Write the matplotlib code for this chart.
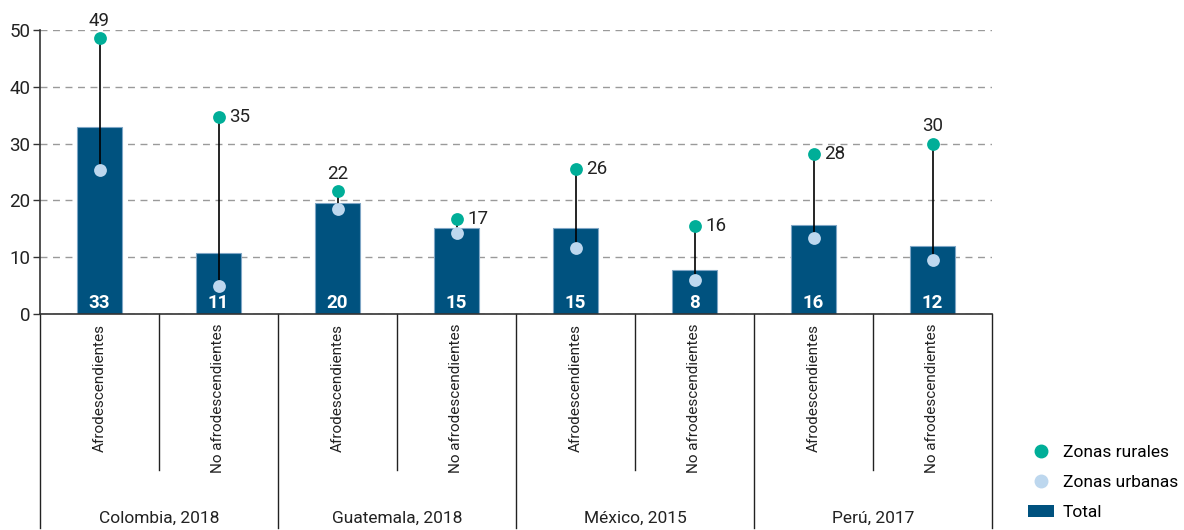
import numpy as np
import matplotlib.pyplot as plt
from matplotlib.lines import Line2D
from matplotlib.patches import Patch

plt.rcParams['font.family'] = ['Roboto', 'DejaVu Sans']

# Datos por país y grupo
paises = ['Colombia, 2018', 'Guatemala, 2018', 'México, 2015', 'Perú, 2017']
grupos = ['Afrodescendientes', 'No afrodescendientes']
total = [32.9, 10.7, 19.5, 15.1, 15.1, 7.7, 15.7, 12.0]
total_etiqueta = [33, 11, 20, 15, 15, 8, 16, 12]
rural = [48.6, 34.7, 21.6, 16.8, 25.6, 15.5, 28.2, 30.0]
rural_etiqueta = [49, 35, 22, 17, 26, 16, 28, 30]
urbano = [25.4, 5.0, 18.4, 14.2, 11.7, 5.9, 13.4, 9.5]
# posición de la etiqueta rural: encima del punto o a la derecha
pos_etiqueta = ['top', 'right', 'top', 'right', 'right', 'right', 'right', 'top']

c_total = '#00527f'
c_rural = '#00ae98'
c_urbano = '#bdd7ee'
c_texto = '#222222'

fig = plt.figure(figsize=(11.84, 5.30), dpi=100)
ax = fig.add_axes([40 / 1184, 1 - 314 / 530, 952 / 1184, 284 / 530])

x = np.arange(len(total))
ax.bar(x, total, width=0.37, color=c_total, edgecolor='#7fa6c6', linewidth=0.8, zorder=2)
ax.vlines(x, urbano, rural, color='black', linewidth=1.2, zorder=3)
ax.scatter(x, urbano, s=85, color=c_urbano, zorder=4, linewidths=0)
ax.scatter(x, rural, s=85, color=c_rural, zorder=4, linewidths=0)

for i in range(len(x)):
    ax.text(x[i], 0.3, str(total_etiqueta[i]), ha='center', va='bottom',
            color='white', fontsize=13.5, fontweight='bold', zorder=5)
    if pos_etiqueta[i] == 'top':
        ax.annotate(str(rural_etiqueta[i]), (x[i], rural[i]), xytext=(0, 6),
                    textcoords='offset points', ha='center', va='bottom', fontsize=13.5, color=c_texto)
    else:
        ax.annotate(str(rural_etiqueta[i]), (x[i], rural[i]), xytext=(8, 0),
                    textcoords='offset points', ha='left', va='center', fontsize=13.5, color=c_texto)

ax.set_xlim(-0.5, len(x) - 0.5)
ax.set_ylim(0, 50)
ax.set_yticks([0, 10, 20, 30, 40, 50])
ax.tick_params(axis='y', labelsize=13.5, length=5, width=1, color='#333333', pad=2, labelcolor=c_texto)
ax.set_xticks([])
ax.yaxis.grid(True, linestyle=(0, (5, 4)), color='#9a9a9a', linewidth=1, zorder=0)
ax.set_axisbelow(True)
for s in ['top', 'right']:
    ax.spines[s].set_visible(False)
for s in ['left', 'bottom']:
    ax.spines[s].set_color('#333333')
    ax.spines[s].set_linewidth(1.2)

# Ejes de categorías en dos niveles
tr = ax.get_xaxis_transform()
for i in range(len(x)):
    ax.text(x[i], -0.035, grupos[i % 2], rotation=90, ha='center', va='top',
            fontsize=11, color=c_texto, transform=tr)
for j in range(len(x) + 1):
    borde = j - 0.5
    fondo = -0.755 if j % 2 == 0 else -0.55
    ax.plot([borde, borde], [0, fondo], color=c_texto, lw=1, transform=tr, clip_on=False)
for k, p in enumerate(paises):
    ax.text(2 * k + 0.5, -0.718, p, ha='center', va='center', fontsize=12.5,
            color=c_texto, transform=tr)

handles = [
    Line2D([], [], marker='o', linestyle='none', markersize=9, color=c_rural),
    Line2D([], [], marker='o', linestyle='none', markersize=9, color=c_urbano),
    Patch(facecolor=c_total),
]
fig.legend(handles, ['Zonas rurales', 'Zonas urbanas', 'Total'], loc='lower left',
           bbox_to_anchor=(0.855, -0.01), frameon=False, fontsize=12.5,
           handlelength=1.5, handletextpad=0.5, labelspacing=0.85)

fig.savefig('out.png', dpi=100)
